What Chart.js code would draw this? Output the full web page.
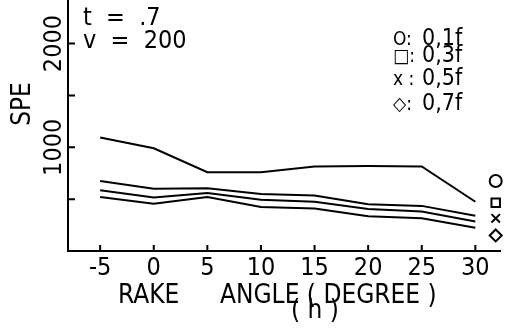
<!DOCTYPE html>
<html>
<head>
<meta charset="utf-8">
<script src="https://cdn.jsdelivr.net/npm/chart.js@4.4.0/dist/chart.umd.min.js"></script>
<style>
  html, body { margin: 0; padding: 0; background: #fff; }
  #wrap { width: 505px; height: 334px; position: relative; }
</style>
</head>
<body>
<div id="wrap"><canvas id="chart"></canvas></div>
<script>
// values
const angles = [-5, 0, 5, 10, 15, 20, 25, 30];
const spe01 = [1095, 990, 760, 760, 815, 820, 815, 475];
const spe03 = [675, 600, 605, 550, 535, 450, 435, 340];
const spe05 = [585, 515, 560, 495, 475, 405, 380, 285];
const spe07 = [520, 455, 520, 425, 410, 335, 315, 225];

const xTicks = [-5, 0, 5, 10, 15, 20, 25, 30];
const yTickMarks = [500, 1000, 1500, 2000];
const yTickLabels = [1000, 2000];

// markers at the right end, one per feed
const feedLabels = ['0,1f', '0,3f', '0,5f', '0,7f'];
const feedSymbols = ['O:', '\u25A1:', 'x :', '\u25C7:'];
const markerAngle = 31.9;
const markerSpe = [675, 465, 315, 150];
const markerStyles = ['circle', 'rect', 'crossRot', 'rectRot'];

const FONT = size => size + 'px "DejaVu Sans Condensed", "Liberation Sans Narrow", sans-serif';

function pts(ys) {
    return angles.map((a, i) => ({ x: a, y: ys[i] }));
}

function lineSet(label, ys) {
    return {
        label: label,
        data: pts(ys),
        borderColor: '#000',
        borderWidth: 2,
        pointRadius: 0,
        tension: 0,
        fill: false,
    };
}

// axis ticks, tick labels and annotation text
const paperText = {
    id: 'paperText',
    afterDraw(chart) {
        const ctx = chart.ctx;
        const x = chart.scales.x;
        const y = chart.scales.y;
        ctx.save();
        ctx.strokeStyle = '#000';
        ctx.lineWidth = 2;
        ctx.beginPath();
        xTicks.forEach(v => {
            const px = x.getPixelForValue(v);
            ctx.moveTo(px, y.bottom);
            ctx.lineTo(px, y.bottom - 6);
        });
        yTickMarks.forEach(v => {
            const py = y.getPixelForValue(v);
            ctx.moveTo(x.left, py);
            ctx.lineTo(x.left + 7, py);
        });
        ctx.stroke();

        ctx.fillStyle = '#000';
        ctx.textAlign = 'center';
        ctx.textBaseline = 'middle';
        ctx.font = FONT(25);
        xTicks.forEach(v => {
            ctx.fillText(String(v), x.getPixelForValue(v), 268);
        });

        yTickLabels.forEach(v => {
            ctx.save();
            ctx.translate(54, y.getPixelForValue(v));
            ctx.rotate(-Math.PI / 2);
            ctx.fillText(String(v), 0, 0);
            ctx.restore();
        });

        ctx.save();
        ctx.font = FONT(26);
        ctx.translate(23, 104);
        ctx.rotate(-Math.PI / 2);
        ctx.fillText('SPE', 0, 0);
        ctx.restore();

        ctx.font = FONT(26);
        ctx.textAlign = 'left';
        ctx.textBaseline = 'alphabetic';
        ctx.fillText('RAKE', 118, 303);
        ctx.fillText('ANGLE ( DEGREE )', 220, 303);
        ctx.textAlign = 'center';
        ctx.fillText('( h )', 315, 318);

        ctx.textAlign = 'left';
        ctx.font = FONT(25);
        ctx.fillText('t  =  .7', 83, 25);
        ctx.fillText('v  =  200', 83, 48);

        const rows = [45, 62, 85, 110];
        feedLabels.forEach((t, i) => {
            ctx.font = FONT(19);
            ctx.fillText(feedSymbols[i], 393, rows[i]);
            ctx.font = FONT(23);
            ctx.fillText(t, 422, rows[i]);
        });
        ctx.restore();
    }
};

const ctx = document.getElementById('chart').getContext('2d');

new Chart(ctx, {
    type: 'line',
    data: {
        datasets: [
            lineSet('0,1f', spe01),
            lineSet('0,3f', spe03),
            lineSet('0,5f', spe05),
            lineSet('0,7f', spe07),
            {
                label: 'markers',
                data: markerSpe.map(v => ({ x: markerAngle, y: v })),
                showLine: false,
                pointStyle: markerStyles,
                pointRadius: 6,
                borderColor: '#000',
                borderWidth: 2,
                backgroundColor: 'rgba(0,0,0,0)',
                clip: false,
            },
        ],
    },
    options: {
        responsive: true,
        maintainAspectRatio: false,
        animation: false,
        layout: { autoPadding: false, padding: { right: 5 } },
        plugins: {
            legend: { display: false },
            tooltip: { enabled: false },
        },
        scales: {
            x: {
                type: 'linear',
                min: -8,
                max: 32.3,
                ticks: { display: false },
                grid: { display: false, drawTicks: false },
                border: { display: true, color: '#000', width: 2 },
                afterFit: s => { s.height = 83; },
            },
            y: {
                min: 0,
                max: 2420,
                ticks: { display: false },
                grid: { display: false, drawTicks: false },
                border: { display: true, color: '#000', width: 2 },
                afterFit: s => { s.width = 68; },
            },
        },
    },
    plugins: [paperText],
});
</script>
</body>
</html>
